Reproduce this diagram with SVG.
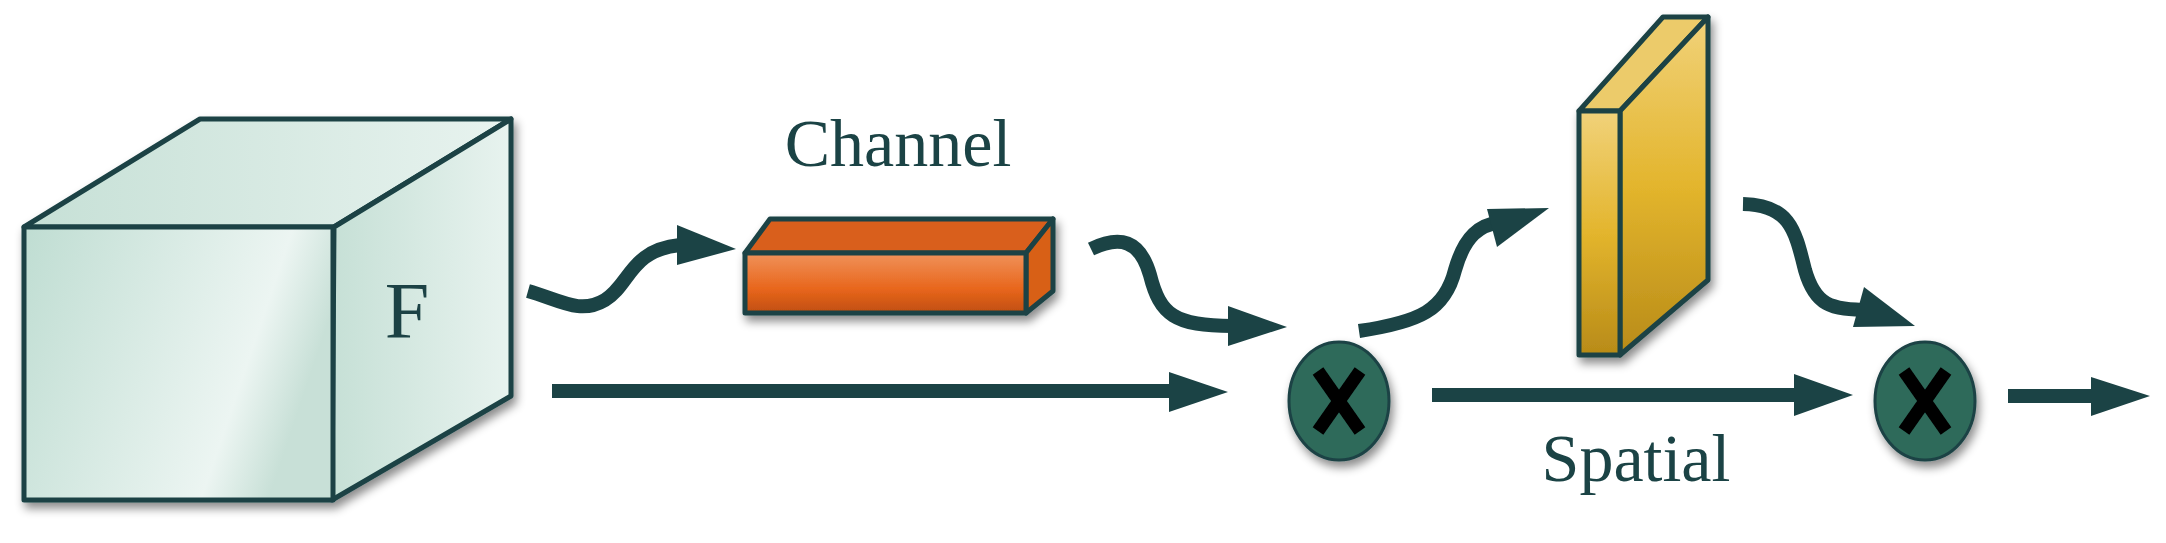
<svg xmlns="http://www.w3.org/2000/svg" width="2166" height="543" viewBox="0 0 2166 543">
<style>
.ln{fill:none;stroke:#1b4345;stroke-width:14}
.hd{fill:#1b4345}
.ed{stroke:#1b4345;stroke-width:5;stroke-linejoin:round}
.lbl{font-family:"Liberation Serif",serif;fill:#1b4345}
.x{stroke:#000;stroke-width:13;stroke-linecap:butt}
</style>
<defs>
<linearGradient id="cf" x1="0" y1="0" x2="1" y2="0.3"><stop offset="0" stop-color="#bfddd2"/><stop offset="0.8" stop-color="#ecf5f2"/><stop offset="1" stop-color="#c8e0d7"/></linearGradient>
<linearGradient id="ct" x1="0" y1="0" x2="1" y2="0"><stop offset="0" stop-color="#c6e0d6"/><stop offset="1" stop-color="#e8f3ef"/></linearGradient>
<linearGradient id="or" x1="0" y1="0" x2="0" y2="1"><stop offset="0" stop-color="#f0925a"/><stop offset="0.6" stop-color="#e8661c"/><stop offset="1" stop-color="#c04e10"/></linearGradient>
<linearGradient id="ye" x1="0" y1="0" x2="0" y2="1"><stop offset="0" stop-color="#f1d27a"/><stop offset="0.5" stop-color="#e3b52d"/><stop offset="1" stop-color="#b88b18"/></linearGradient>
<filter id="sh" x="-20%" y="-20%" width="140%" height="140%"><feDropShadow dx="3" dy="6" stdDeviation="5" flood-color="#000" flood-opacity="0.45"/></filter>
</defs>
<g id="cube-F" filter="url(#sh)">
<polygon class="ed" points="24,227 200,119 511,119 334,227" fill="url(#ct)"/>
<polygon class="ed" points="334,227 511,119 511,396 332,500" fill="url(#ct)"/>
<rect class="ed" x="24" y="227" width="309" height="273" fill="url(#cf)"/>
<text class="lbl" x="407" y="338" font-size="80" text-anchor="middle">F</text>
</g>
<g id="channel" filter="url(#sh)">
<polygon class="ed" points="745,253 770,219 1053,219 1026,253" fill="#d95f1c"/>
<polygon class="ed" points="1026,253 1053,219 1053,291 1026,313" fill="#d86018"/>
<rect class="ed" x="745" y="253" width="281" height="60" fill="url(#or)"/>
</g>
<text id="channel-label" class="lbl" x="898" y="166" font-size="68" text-anchor="middle">Channel</text>
<g id="spatial" filter="url(#sh)">
<polygon class="ed" points="1579,111 1663,17 1708,17 1620,111" fill="#eccb6a"/>
<polygon class="ed" points="1620,111 1708,17 1708,280 1620,355" fill="url(#ye)"/>
<rect class="ed" x="1579" y="111" width="41" height="244" fill="url(#ye)"/>
</g>
<text id="spatial-label" class="lbl" x="1636" y="481" font-size="68" text-anchor="middle">Spatial</text>
<g id="mul1" filter="url(#sh)">
<ellipse cx="1339" cy="401" rx="50" ry="59" fill="#2f6a5a" stroke="#1b4345" stroke-width="3"/>
<line class="x" x1="1318" y1="371" x2="1360" y2="431"/><line class="x" x1="1360" y1="371" x2="1318" y2="431"/>
</g>
<g id="mul2" filter="url(#sh)">
<ellipse cx="1925" cy="401" rx="50" ry="59" fill="#2f6a5a" stroke="#1b4345" stroke-width="3"/>
<line class="x" x1="1904" y1="371" x2="1946" y2="431"/><line class="x" x1="1946" y1="371" x2="1904" y2="431"/>
</g>
<g id="connectors">
<path class="ln" d="M528,291 C560,300 580,315 605,300 C630,285 630,250 680,245"/>
<polygon class="hd" points="677,225 736,249 677,265"/>
<path class="ln" d="M552,391 H1175"/>
<polygon class="hd" points="1169,372 1228,392 1169,412"/>
<path class="ln" d="M1091,249 C1120,235 1140,240 1150,275 C1160,315 1175,326 1232,326"/>
<polygon class="hd" points="1228,306 1287,327 1228,346"/>
<path class="ln" d="M1359,331 C1420,322 1445,310 1455,270 C1465,235 1480,225 1500,222"/>
<polygon class="hd" points="1487,209 1549,208 1497,247"/>
<path class="ln" d="M1432,395 H1800"/>
<polygon class="hd" points="1794,374 1853,395 1794,416"/>
<path class="ln" d="M1743,204 C1790,205 1795,230 1805,270 C1815,305 1830,310 1870,310"/>
<polygon class="hd" points="1864,287 1915,326 1853,327"/>
<path class="ln" d="M2008,396 H2095"/>
<polygon class="hd" points="2091,377 2150,396 2091,416"/>
</g>
</svg>
